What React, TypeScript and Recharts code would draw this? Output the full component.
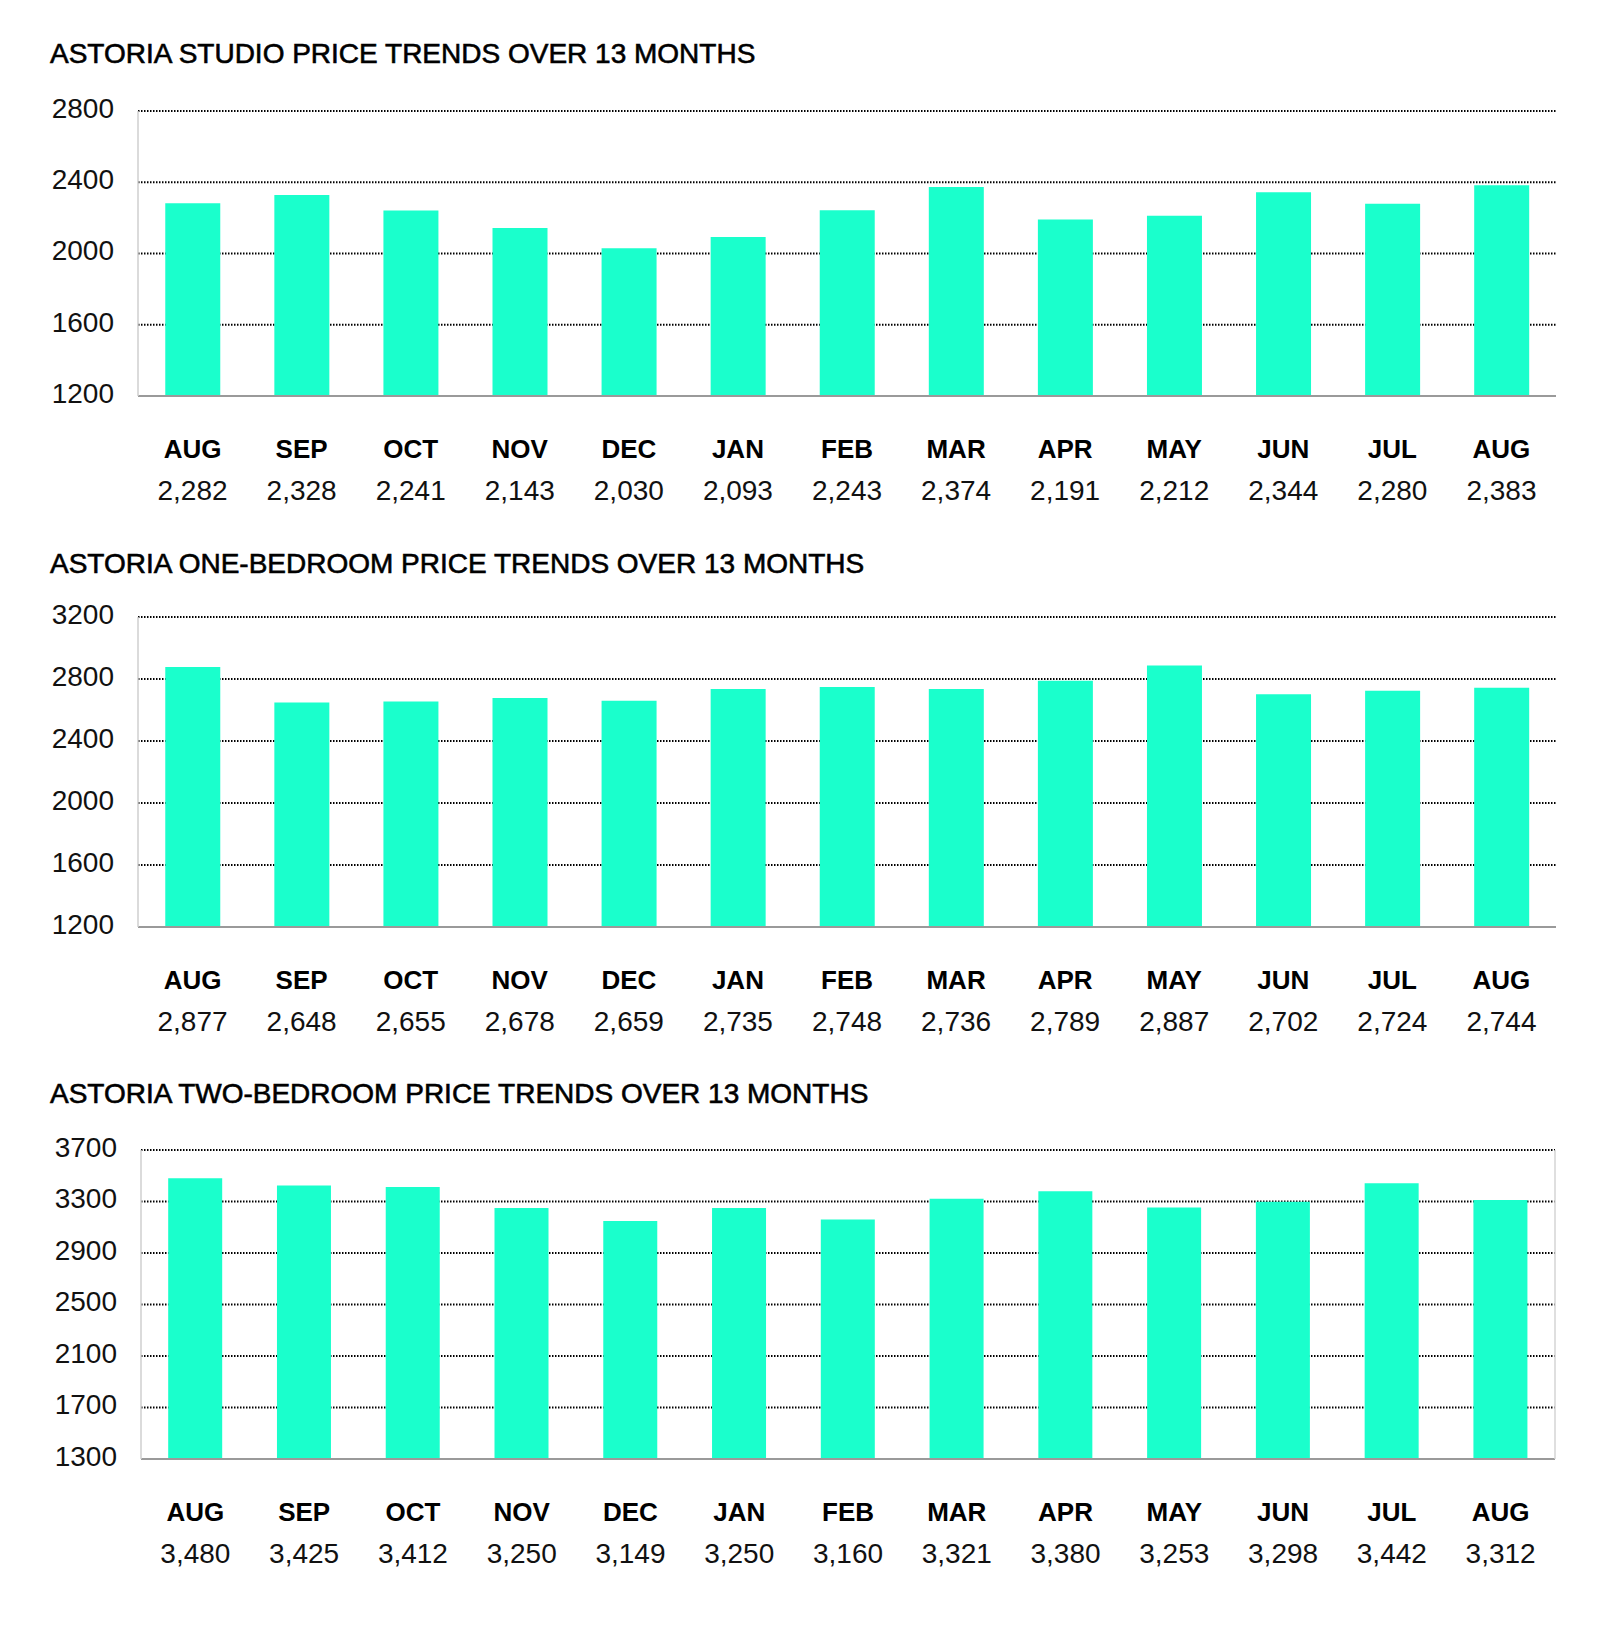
import React from 'react';
import { BarChart, Bar, XAxis, YAxis, CartesianGrid } from 'recharts';

const months = ['AUG', 'SEP', 'OCT', 'NOV', 'DEC', 'JAN', 'FEB', 'MAR', 'APR', 'MAY', 'JUN', 'JUL', 'AUG'];
const studioPrices = [2282, 2328, 2241, 2143, 2030, 2093, 2243, 2374, 2191, 2212, 2344, 2280, 2383];
const oneBedPrices = [2877, 2648, 2655, 2678, 2659, 2735, 2748, 2736, 2789, 2887, 2702, 2724, 2744];
const twoBedPrices = [3480, 3425, 3412, 3250, 3149, 3250, 3160, 3321, 3380, 3253, 3298, 3442, 3312];

const studioTicks = [1200, 1600, 2000, 2400, 2800];
const oneBedTicks = [1200, 1600, 2000, 2400, 2800, 3200];
const twoBedTicks = [1300, 1700, 2100, 2500, 2900, 3300, 3700];
const boundaryTicks = [0, 1, 2, 3, 4, 5, 6, 7, 8, 9, 10, 11, 12, 13];

const titles = [
  'ASTORIA STUDIO PRICE TRENDS OVER 13 MONTHS',
  'ASTORIA ONE-BEDROOM PRICE TRENDS OVER 13 MONTHS',
  'ASTORIA TWO-BEDROOM PRICE TRENDS OVER 13 MONTHS',
];

const FONT = '"Liberation Sans", Arial, Helvetica, sans-serif';
const BAR = '#1AFFCC';
const TOP_PAD = 20;
const LABEL_AREA = 130;

type ChartProps = {
  title: string;
  prices: number[];
  ticks: number[];
  titleBaseline: number;
  plotTop: number;
  plotBottom: number;
  axisX: number;
  rightEdge: number;
  rightBorder?: boolean;
};

const fmt = (v: number) => v.toLocaleString('en-US');

function PriceChart({ title, prices, ticks, titleBaseline, plotTop, plotBottom, axisX, rightEdge, rightBorder }: ChartProps) {
  const data = months.map((m, i) => ({ month: m, price: prices[i] }));
  const height = plotBottom - plotTop + TOP_PAD + LABEL_AREA + 1;
  const domain: [number, number] = [ticks[0], ticks[ticks.length - 1]];
  const MonthTick = (p: any) => {
    const { x, y, index, payload } = p;
    return (
      <g>
        <text x={x} y={y + 61} textAnchor="middle" fontSize={26} fontWeight="bold" fill="#000" fontFamily={FONT}>
          {payload.value}
        </text>
        <text x={x} y={y + 103} textAnchor="middle" fontSize={28} fill="#111" fontFamily={FONT}>
          {fmt(prices[index])}
        </text>
      </g>
    );
  };
  return (
    <>
      <div
        style={{
          position: 'absolute',
          left: 50,
          top: titleBaseline - 23.7,
          fontFamily: FONT,
          fontSize: 28,
          lineHeight: '28px',
          color: '#000',
          WebkitTextStroke: '0.6px #000',
          whiteSpace: 'nowrap',
        }}
      >
        {title}
      </div>
      <div style={{ position: 'absolute', left: 0, top: plotTop - TOP_PAD }}>
        <BarChart
          width={1600}
          height={height}
          data={data}
          margin={{ top: TOP_PAD, right: 1600 - rightEdge, bottom: 0, left: 0 }}
          barCategoryGap="25%"
        >
          <CartesianGrid vertical={false} stroke="#000" strokeDasharray="1.5 1.5" strokeWidth={2} yAxisId="main" />
          <XAxis
            xAxisId="bounds"
            type="number"
            domain={[0, 13]}
            allowDataOverflow
            ticks={boundaryTicks}
            height={1}
            tick={false}
            tickSize={7}
            axisLine={{ stroke: '#9a9a9a', strokeWidth: 2 }}
            tickLine={{ stroke: '#9a9a9a', strokeWidth: 1.5 }}
          />
          <XAxis
            xAxisId="cat"
            dataKey="month"
            height={LABEL_AREA}
            axisLine={false}
            tickLine={false}
            tickSize={0}
            tickMargin={0}
            interval={0}
            tick={MonthTick}
          />
          <YAxis
            yAxisId="main"
            width={axisX}
            domain={domain}
            ticks={ticks}
            allowDataOverflow
            tickLine={false}
            tickSize={0}
            tickMargin={24}
            axisLine={{ stroke: '#cfcfcf', strokeWidth: 1.5 }}
            tick={{ fontSize: 28, fill: '#111', fontFamily: FONT, dy: -3 }}
          />
          {rightBorder && (
            <YAxis
              yAxisId="right"
              orientation="right"
              width={1}
              domain={domain}
              allowDataOverflow
              tick={false}
              tickLine={false}
              axisLine={{ stroke: '#d5d5d5', strokeWidth: 1.5 }}
            />
          )}
          <Bar xAxisId="cat" yAxisId="main" dataKey="price" fill={BAR} isAnimationActive={false} />
        </BarChart>
      </div>
    </>
  );
}

export default function App() {
  return (
    <div style={{ position: 'absolute', left: 0, top: 0, width: 1600, height: 1625, background: '#fff', overflow: 'hidden' }}>
      <PriceChart title={titles[0]} prices={studioPrices} ticks={studioTicks} titleBaseline={64} plotTop={111} plotBottom={396} axisX={138} rightEdge={1556} />
      <PriceChart title={titles[1]} prices={oneBedPrices} ticks={oneBedTicks} titleBaseline={573.5} plotTop={617} plotBottom={927} axisX={138} rightEdge={1556} />
      <PriceChart title={titles[2]} prices={twoBedPrices} ticks={twoBedTicks} titleBaseline={1103.5} plotTop={1150} plotBottom={1459} axisX={141} rightEdge={1556} rightBorder />
    </div>
  );
}
